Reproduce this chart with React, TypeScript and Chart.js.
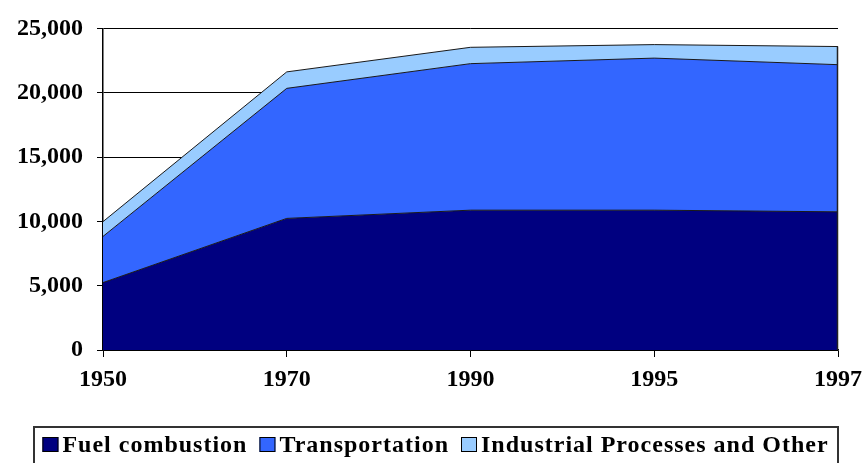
import React, { useEffect, useRef } from "react";
import { Chart, registerables } from "chart.js";

Chart.register(...registerables);

const years = ["1950", "1970", "1990", "1995", "1997"];
const fuelCombustion = [5240, 10230, 10870, 10870, 10740];
const transportation = [3590, 10110, 11390, 11820, 11440];
const industrialOther = [1150, 1280, 1270, 1050, 1410];
const seriesLabels = ["Fuel combustion", "Transportation", "Industrial Processes and Other"];
const seriesColors = ["#000080", "#3366FF", "#99CCFF"];
const yMin = 0;
const yMax = 25000;
const yStep = 5000;

const FONT = '"Liberation Serif", "Times New Roman", serif';

const edgePlugin = {
  id: "edgePlugin",
  afterDatasetsDraw(chart: any) {
    const ctx = chart.ctx;
    const n = chart.data.datasets.length;
    const meta = chart.getDatasetMeta(n - 1);
    const last = meta.data[meta.data.length - 1];
    if (!last) return;
    ctx.save();
    ctx.strokeStyle = "#222";
    ctx.lineWidth = 1.5;
    ctx.beginPath();
    ctx.moveTo(Math.round(last.x) - 0.5, last.y);
    ctx.lineTo(Math.round(last.x) - 0.5, chart.chartArea.bottom);
    ctx.stroke();
    ctx.restore();
  },
};

const legendPlugin = {
  id: "boxLegend",
  afterDraw(chart: any) {
    const ctx = chart.ctx;
    ctx.save();
    ctx.font = `bold 24px ${FONT}`;
    (ctx as any).letterSpacing = "1px";
    const box = 16;
    const gapBoxText = 4;
    const gapItems = 12;
    const items = chart.data.datasets.map((ds: any) => ({
      label: ds.label,
      color: ds.backgroundColor,
      w: ctx.measureText(ds.label).width,
    }));
    let total = 0;
    items.forEach((it: any, i: number) => {
      total += box + gapBoxText + it.w + (i < items.length - 1 ? gapItems : 0);
    });
    const center = chart.width / 2 + 3;
    const startX = center - total / 2;
    const top = chart.chartArea.bottom + 77;
    const midY = top + 18;
    ctx.strokeStyle = "#333";
    ctx.lineWidth = 2;
    ctx.strokeRect(Math.round(startX - 8), top, Math.round(total + 18), 60);
    let x = startX;
    items.forEach((it: any) => {
      ctx.fillStyle = it.color;
      ctx.fillRect(x, midY - box / 2, box, box - 1);
      ctx.strokeStyle = "#000";
      ctx.lineWidth = 1;
      ctx.strokeRect(x + 0.5, midY - box / 2 + 0.5, box - 1, box - 2);
      x += box + gapBoxText;
      ctx.fillStyle = "#000";
      ctx.textBaseline = "middle";
      ctx.textAlign = "left";
      ctx.fillText(it.label, x, midY + 1);
      x += it.w + gapItems;
    });
    ctx.restore();
  },
};

export default function App() {
  const ref = useRef<HTMLCanvasElement | null>(null);
  useEffect(() => {
    document.body.style.margin = "0";
    const canvas = ref.current;
    if (!canvas) return;
    const values = [fuelCombustion, transportation, industrialOther];
    const chart = new Chart(canvas, {
      type: "line",
      data: {
        labels: years,
        datasets: values.map((v, i) => ({
          label: seriesLabels[i],
          data: v,
          backgroundColor: seriesColors[i],
          borderColor: "#1a1a1a",
          borderWidth: 1,
          fill: i === 0 ? "origin" : "-1",
          pointRadius: 0,
          tension: 0,
        })),
      },
      options: {
        responsive: false,
        animation: false,
        maintainAspectRatio: false,
        layout: { padding: { left: 0, right: 27, top: 24, bottom: 68 } },
        plugins: { legend: { display: false }, tooltip: { enabled: false } },
        scales: {
          x: {
            type: "category",
            offset: false,
            grid: {
              drawOnChartArea: false,
              drawTicks: true,
              tickLength: 7,
              tickColor: "#000",
              color: "#000",
            },
            border: { color: "#000", width: 1.5 },
            ticks: {
              color: "#000",
              font: { family: FONT, size: 24, weight: "bold" },
              padding: 8,
              maxRotation: 0,
              autoSkip: false,
            },
            afterFit(s: any) {
              s.height = 45;
              s.paddingLeft = 0;
              s.paddingRight = 0;
            },
          },
          y: {
            stacked: true,
            min: yMin,
            max: yMax,
            grid: {
              color: "#000",
              lineWidth: 1,
              tickLength: 6,
              tickColor: "#000",
            },
            border: { color: "#000", width: 1.5 },
            ticks: {
              stepSize: yStep,
              color: "#000",
              padding: 14,
              font: { family: FONT, size: 24, weight: "bold" },
              callback: (v: any) => Number(v).toLocaleString("en-US"),
            },
            afterFit(s: any) {
              s.width = 103;
            },
          },
        },
      },
      plugins: [edgePlugin, legendPlugin],
    });
    return () => chart.destroy();
  }, []);
  return (
    <div style={{ width: 865, height: 463 }}>
      <canvas ref={ref} width={865} height={463} style={{ display: "block" }} />
    </div>
  );
}
